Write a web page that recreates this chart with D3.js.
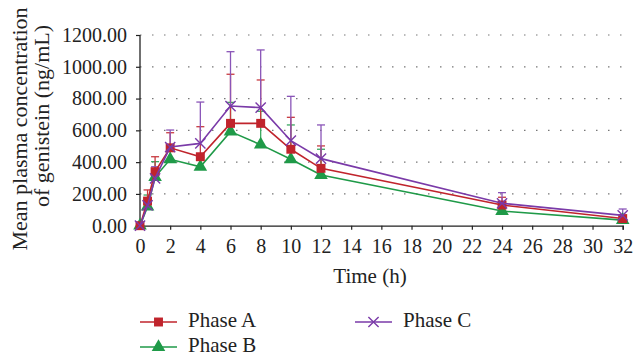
<!DOCTYPE html>
<html><head><meta charset="utf-8">
<script src="https://cdn.jsdelivr.net/npm/d3@7"></script>
<style>body{margin:0;background:#fff}svg{display:block}text{font-family:"Liberation Serif","DejaVu Serif",serif;fill:#222}</style>
</head><body><svg id="c" width="635" height="354"></svg>
<script>
const times = [0, 0.5, 1, 2, 4, 6, 8, 10, 12, 24, 32];
const phaseA = [0, 155, 340, 490, 434, 644, 644, 481, 361, 130, 45];
const phaseAUpper = [0, 225, 434, 585, 623, 953, 917, 682, 502, 179, 60];
const phaseB = [0, 120, 306, 418, 371, 592, 510, 418, 319, 92, 35];
const phaseBUpper = [0, 193, 403, 470, 430, 776, 720, 634, 481, 120, 45];
const phaseC = [0, 128, 298, 495, 518, 753, 743, 535, 422, 141, 65];
const phaseCUpper = [0, 160, 371, 602, 778, 1095, 1106, 814, 634, 208, 105];
const yTicks = [0, 200, 400, 600, 800, 1000, 1200];
const xTicks = d3.range(0, 33, 2);
const seriesNames = ["Phase A", "Phase B", "Phase C"];

const svg = d3.select("#c");
const x = d3.scaleLinear().domain([0, 32]).range([140, 622.7]);
const y = d3.scaleLinear().domain([0, 1200]).range([225.7, 35]);

// gridlines
svg.append("g").selectAll("line").data(yTicks.filter(d => d > 0)).join("line")
  .attr("x1", x(0)).attr("x2", x(32)).attr("y1", d => y(d)).attr("y2", d => y(d))
  .attr("stroke", "#777").attr("stroke-width", 1.2).attr("stroke-dasharray", "1.5,10.5");

// axes
const yAxis = d3.axisLeft(y).tickValues(yTicks).tickFormat(d3.format(".2f")).tickSize(4).tickPadding(9);
const gy = svg.append("g").attr("transform", `translate(${x(0)},0)`).call(yAxis);
const xAxis = d3.axisBottom(x).tickValues(xTicks).tickFormat(d3.format("d")).tickSize(4).tickPadding(9);
const gx = svg.append("g").attr("transform", `translate(0,${y(0)})`).call(xAxis);
[gy, gx].forEach(g => {
  g.select(".domain").attr("stroke", "#222").attr("stroke-width", 1.3);
  g.selectAll(".tick line").attr("stroke", "#222").attr("stroke-width", 1.2);
  g.selectAll("text").attr("font-size", 20).attr("fill", "#222").attr("font-family", "Liberation Serif");
});
gy.select(".domain").attr("d", `M-0,${y(1200)}V${y(0)}`);

// titles
svg.append("text").attr("x", 370).attr("y", 283).attr("text-anchor", "middle").attr("font-size", 21).text("Time (h)");
svg.append("text").attr("transform", "translate(27,129) rotate(-90)").attr("text-anchor", "middle").attr("font-size", 22).text("Mean plasma concentration");
svg.append("text").attr("transform", "translate(49,116) rotate(-90)").attr("text-anchor", "middle").attr("font-size", 22).text("of genistein (ng/mL)");

const colors = { "Phase A": "#c0242c", "Phase B": "#1f9a48", "Phase C": "#7a3aa8" };
const barColors = { "Phase A": "#c83a40", "Phase B": "#3aa860", "Phase C": "#8a55b8" };
const data = {
  "Phase A": { v: phaseA, u: phaseAUpper },
  "Phase B": { v: phaseB, u: phaseBUpper },
  "Phase C": { v: phaseC, u: phaseCUpper }
};
const order = ["Phase B", "Phase A", "Phase C"];

// error bars
order.forEach(name => {
  const g = svg.append("g");
  const pts = times.map((t, i) => ({ t, v: data[name].v[i], u: data[name].u[i] })).filter(d => d.u > d.v);
  g.selectAll("line.v").data(pts).join("line")
    .attr("x1", d => x(d.t)).attr("x2", d => x(d.t)).attr("y1", d => y(d.v)).attr("y2", d => y(d.u))
    .attr("stroke", barColors[name]).attr("stroke-width", 1.3);
  g.selectAll("line.c").data(pts).join("line")
    .attr("x1", d => x(d.t) - 4).attr("x2", d => x(d.t) + 4).attr("y1", d => y(d.u)).attr("y2", d => y(d.u))
    .attr("stroke", barColors[name]).attr("stroke-width", 1.3);
});

const symbols = { "Phase A": d3.symbolSquare, "Phase B": d3.symbolTriangle, "Phase C": d3.symbolX };
const sizes = { "Phase A": 80, "Phase B": 80, "Phase C": 70 };
function marker(g, name, cx, cy) {
  const p = g.append("path").attr("d", d3.symbol(symbols[name], sizes[name])()).attr("transform", `translate(${cx},${cy})`);
  if (name === "Phase C") p.attr("fill", "none").attr("stroke", colors[name]).attr("stroke-width", 1.4);
  else p.attr("fill", colors[name]);
}

order.forEach(name => {
  const g = svg.append("g");
  const pts = times.map((t, i) => [t, data[name].v[i]]);
  g.append("path").datum(pts).attr("fill", "none").attr("stroke", colors[name]).attr("stroke-width", 1.6)
    .attr("d", d3.line().x(d => x(d[0])).y(d => y(d[1])));
  pts.forEach(d => marker(g, name, x(d[0]), y(d[1])));
});

// legend
const legendPos = { "Phase A": [140, 322], "Phase C": [355, 322], "Phase B": [140, 347] };
seriesNames.forEach(name => {
  const [lx, ly] = legendPos[name];
  const g = svg.append("g");
  g.append("line").attr("x1", lx).attr("x2", lx + 37).attr("y1", ly).attr("y2", ly).attr("stroke", colors[name]).attr("stroke-width", 1.6);
  marker(g, name, lx + 18.5, ly);
  g.append("text").attr("x", lx + 48).attr("y", ly + 5).attr("font-size", 21).text(name);
});
</script></body></html>
